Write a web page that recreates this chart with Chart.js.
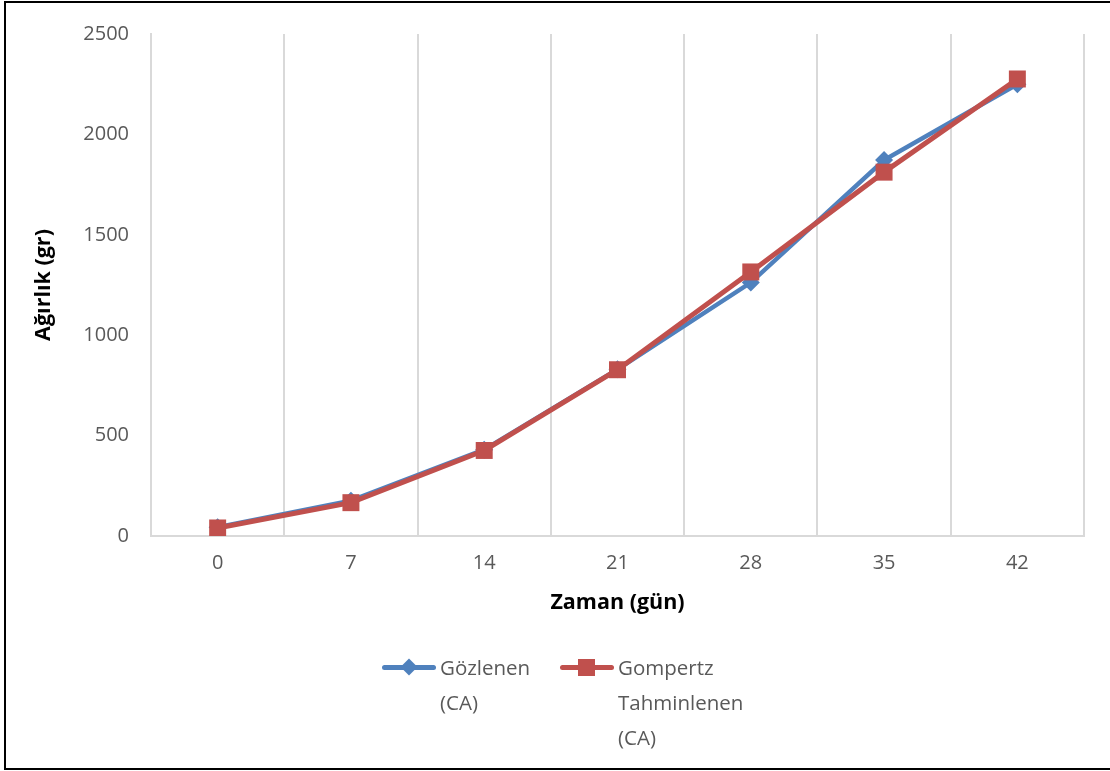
<!DOCTYPE html>
<html>
<head>
<meta charset="utf-8">
<script src="https://cdn.jsdelivr.net/npm/chart.js@4/dist/chart.umd.min.js"></script>
<style>
  html, body { margin: 0; padding: 0; background: #fff; }
  body { width: 1110px; height: 771px; position: relative; overflow: hidden; font-family: "Open Sans", sans-serif; }
  #frame { position: absolute; left: 4px; top: 1px; width: 1120px; height: 765px; border: 2px solid #000; }
  #wrap { position: absolute; left: 0; top: 0; width: 1110px; height: 771px; }
  .lg { position: absolute; top: 650px; display: flex; align-items: flex-start; color: #595959; font-size: 20.5px; line-height: 35px; }
  .lg .mk { position: relative; width: 54px; height: 35px; margin-right: 4px; }
  .lg .mk .ln { position: absolute; left: 0; right: 0; top: 15px; height: 5px; border-radius: 3px; }
  .lg .mk .pt { position: absolute; }
</style>
</head>
<body>
<div id="frame"></div>
<div id="wrap"><canvas id="growthChart" width="1110" height="771"></canvas></div>

<div class="lg" style="left:382px;">
  <div class="mk"><div class="ln" style="background:#4f81bd;"></div>
    <div class="pt" style="left:21px;top:11px;width:12px;height:12px;background:#4f81bd;transform:rotate(45deg);"></div></div>
  <div>Gözlenen<br>(CA)</div>
</div>
<div class="lg" style="left:560px;">
  <div class="mk"><div class="ln" style="background:#c0504d;"></div>
    <div class="pt" style="left:18px;top:9px;width:17px;height:17px;background:#c0504d;"></div></div>
  <div>Gompertz<br>Tahminlenen<br>(CA)</div>
</div>

<script>
// ── 데이터
const gunler = ['0', '7', '14', '21', '28', '35', '42'];
const gozlenen = [44, 176, 430, 830, 1262, 1872, 2250];
const gompertz = [40, 166, 426, 828, 1315, 1812, 2276];
const yTicks = [0, 500, 1000, 1500, 2000, 2500];

const tickFont = { family: '"Open Sans", sans-serif', size: 20 };
const titleFont = { family: '"Open Sans", sans-serif', size: 21.5, weight: 'bold' };

const ctx = document.getElementById('growthChart').getContext('2d');
new Chart(ctx, {
  type: 'line',
  data: {
    labels: gunler,
    datasets: [
      {
        label: 'Gözlenen (CA)',
        data: gozlenen,
        borderColor: '#4f81bd',
        backgroundColor: '#4f81bd',
        borderWidth: 4.5,
        pointStyle: 'rectRot',
        pointRadius: 9,
        pointBorderWidth: 0,
        tension: 0,
        order: 1,
      },
      {
        label: 'Gompertz Tahminlenen (CA)',
        data: gompertz,
        borderColor: '#c0504d',
        backgroundColor: '#c0504d',
        borderWidth: 5,
        pointStyle: 'rect',
        pointRadius: 12,
        pointBorderWidth: 0,
        tension: 0,
        order: 0,
      }
    ]
  },
  options: {
    responsive: false,
    animation: false,
    layout: { padding: { left: 20, right: 26, top: 31, bottom: 145 } },
    plugins: {
      legend: { display: false },
      tooltip: { enabled: false },
    },
    scales: {
      x: {
        offset: true,
        grid: { offset: true, color: '#d9d9d9', lineWidth: 2, drawTicks: false },
        border: { color: '#d9d9d9', width: 2 },
        ticks: { color: '#595959', font: tickFont, padding: 15, maxRotation: 0 },
        title: { display: true, text: 'Zaman (gün)', color: '#000', font: titleFont, padding: { top: 0, bottom: 10 } },
        afterFit: s => { s.height = 90; },
      },
      y: {
        min: 0,
        max: 2500,
        afterBuildTicks: s => { s.ticks = yTicks.map(v => ({ value: v })); },
        grid: { display: false, drawTicks: false },
        border: { color: '#d9d9d9', width: 2 },
        ticks: { color: '#595959', font: tickFont, padding: 22, callback: v => String(v) },
        title: { display: true, text: 'Ağırlık (gr)', color: '#000', font: titleFont, padding: { top: 11, bottom: 0 } },
        afterFit: s => { s.width = 131; },
      }
    }
  }
});
</script>
</body>
</html>
